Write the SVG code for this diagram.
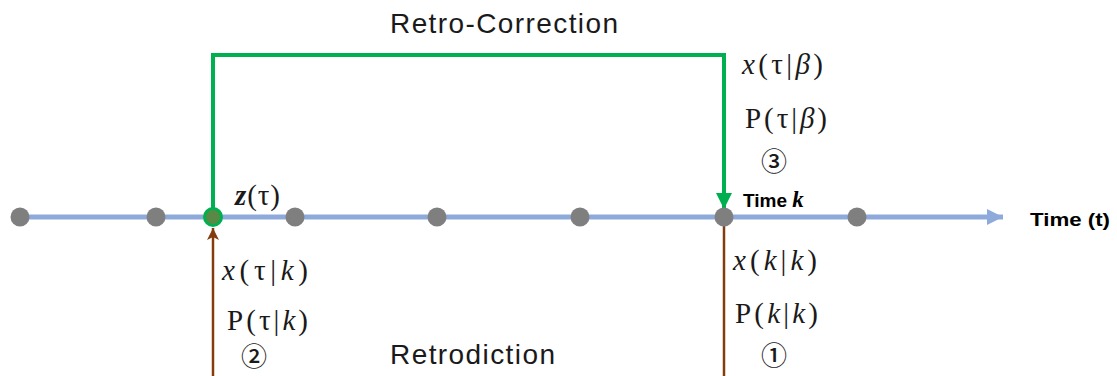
<svg xmlns="http://www.w3.org/2000/svg" width="1117" height="376" viewBox="0 0 1117 376">
  <defs>
    <marker id="head-blue" viewBox="0 0 16 16" refX="16" refY="8" markerWidth="16" markerHeight="16" markerUnits="userSpaceOnUse" orient="auto">
      <path d="M0,0 L16,8 L0,16 Z" fill="#8eaadb"/>
    </marker>
    <marker id="head-green" viewBox="0 0 16 16" refX="16" refY="8" markerWidth="16" markerHeight="16" markerUnits="userSpaceOnUse" orient="auto">
      <path d="M0,0 L16,8 L0,16 Z" fill="#00b050"/>
    </marker>
    <marker id="head-brown" viewBox="0 0 12 12" refX="12" refY="6" markerWidth="12" markerHeight="12" markerUnits="userSpaceOnUse" orient="auto">
      <path d="M0,0 L12,6 L0,12 L3,6 Z" fill="#843c0c"/>
    </marker>
  </defs>
  <style>
    .title { font-family: "Liberation Sans", Arial, sans-serif; font-size: 28px; fill: #1a1a1a; }
    .math { font-family: "Liberation Serif", "Times New Roman", serif; font-size: 29px; fill: #1a1a1a; }
    .it { font-style: italic; }
    .bold { font-family: "Liberation Sans", Arial, sans-serif; font-weight: bold; font-size: 19px; fill: #000; }
    .circ { font-family: "Noto Sans CJK SC", "DejaVu Sans", sans-serif; font-size: 26px; font-weight: 500; fill: #1a1a1a; }
    .dot { fill: #7f7f7f; }
  </style>

  <rect width="1117" height="376" fill="#ffffff"/>

  <!-- connectors -->
  <g id="connectors" fill="none">
    <line id="timeline" x1="20" y1="217" x2="1003" y2="217" stroke="#8eaadb" stroke-width="5" marker-end="url(#head-blue)"/>
    <path id="retro-correction" d="M213,217 V55 H724 V209" stroke="#00b050" stroke-width="4" marker-end="url(#head-green)"/>
    <line id="retrodiction-tau" x1="213" y1="376" x2="213" y2="228" stroke="#843c0c" stroke-width="2.5" marker-end="url(#head-brown)"/>
    <line id="retrodiction-k" x1="724" y1="376" x2="724" y2="226" stroke="#843c0c" stroke-width="2.5"/>
  </g>

  <!-- time steps on the axis -->
  <g id="t0"><circle class="dot" cx="20" cy="217" r="9.5"/></g>
  <g id="t1"><circle class="dot" cx="156" cy="217" r="9.5"/></g>
  <g id="t-tau">
    <circle cx="213" cy="217" r="8.5" fill="#588a45" stroke="#00b050" stroke-width="3"/>
    <text class="math" x="235" y="205" font-size="22" textLength="45" lengthAdjust="spacing"><tspan class="it" font-weight="bold">z</tspan>(τ)</text>
  </g>
  <g id="t3"><circle class="dot" cx="295" cy="217" r="9.5"/></g>
  <g id="t4"><circle class="dot" cx="437" cy="217" r="9.5"/></g>
  <g id="t5"><circle class="dot" cx="580" cy="217" r="9.5"/></g>
  <g id="t-k">
    <circle class="dot" cx="724" cy="217" r="9.5"/>
    <text class="bold" x="743" y="207" font-size="18">Time <tspan font-family="Liberation Serif, serif" font-style="italic" font-size="23">k</tspan></text>
  </g>
  <g id="t7"><circle class="dot" cx="857" cy="217" r="9.5"/></g>

  <g id="axis-label">
    <text class="bold" x="1030" y="226" textLength="80" lengthAdjust="spacingAndGlyphs">Time (t)</text>
  </g>

  <!-- labels -->
  <g id="label-retro-correction">
    <text class="title" x="390" y="33" textLength="228" lengthAdjust="spacing">Retro-Correction</text>
  </g>
  <g id="label-retrodiction">
    <text class="title" x="390" y="364" textLength="165" lengthAdjust="spacing">Retrodiction</text>
  </g>

  <g id="smoothed-estimate">
    <text class="math" x="742" y="74" textLength="81" lengthAdjust="spacing"><tspan class="it">x</tspan>(τ|<tspan class="it">β</tspan>)</text>
    <text class="math" x="745" y="128" textLength="82" lengthAdjust="spacing">P(τ|<tspan class="it">β</tspan>)</text>
    <text class="circ" x="774" y="171" text-anchor="middle">③</text>
  </g>

  <g id="retrodicted-estimate">
    <text class="math" x="222" y="280" textLength="86" lengthAdjust="spacing"><tspan class="it">x</tspan>(τ|<tspan class="it">k</tspan>)</text>
    <text class="math" x="227" y="330" textLength="81" lengthAdjust="spacing">P(τ|<tspan class="it">k</tspan>)</text>
    <text class="circ" x="254" y="366" text-anchor="middle">②</text>
  </g>

  <g id="filtered-estimate">
    <text class="math" x="733" y="270" textLength="84" lengthAdjust="spacing"><tspan class="it">x</tspan>(<tspan class="it">k</tspan>|<tspan class="it">k</tspan>)</text>
    <text class="math" x="735" y="323" textLength="83" lengthAdjust="spacing">P(<tspan class="it">k</tspan>|<tspan class="it">k</tspan>)</text>
    <text class="circ" x="774" y="365" text-anchor="middle">①</text>
  </g>
</svg>
